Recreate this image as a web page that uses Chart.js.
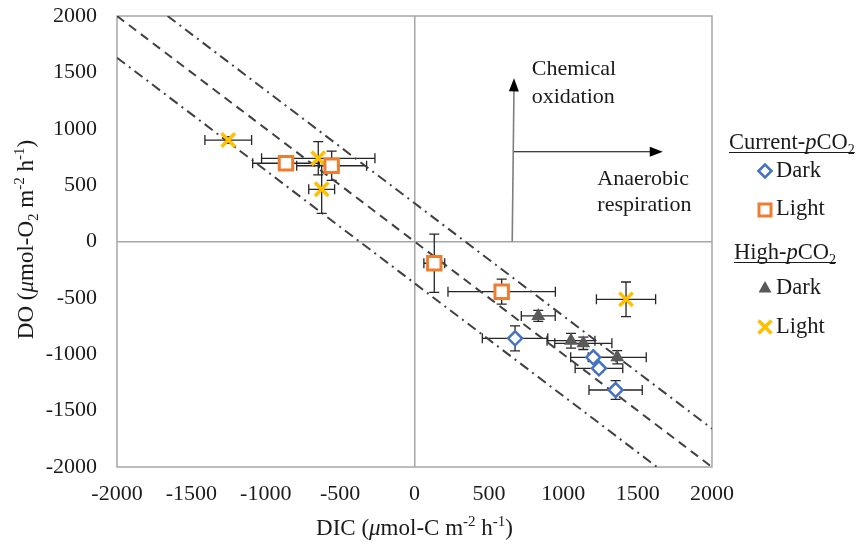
<!DOCTYPE html>
<html>
<head>
<meta charset="utf-8">
<script src="https://cdn.jsdelivr.net/npm/chart.js@4.4.0/dist/chart.umd.min.js"></script>
<style>
  html,body{margin:0;padding:0;background:#fff}
  #wrap{width:861px;height:544px;position:relative}
</style>
</head>
<body>
<div id="wrap"><canvas id="chart"></canvas></div>
<script>
/* ---------- данные (DIC, DO, погрешности) ---------- */
const CUR_DARK_DIC  = [676, 1202, 1240, 1352];
const CUR_DARK_DO   = [-859, -1027, -1125, -1317];
const CUR_DARK_XERR = [220, 152, 160, 179];
const CUR_DARK_YERR = [111, 30, 30, 83];

const CUR_LIGHT_DIC  = [-864, -557, 133, 586];
const CUR_LIGHT_DO   = [694, 672, -193, -445];
const CUR_LIGHT_XERR = [224, 235, 70, 361];
const CUR_LIGHT_YERR = [40, 130, 259, 111];

const HIGH_DARK_DIC  = [832, 1052, 1135, 1363];
const HIGH_DARK_DO   = [-660, -880, -903, -1027];
const HIGH_DARK_XERR = [114, 161, 192, 195];
const HIGH_DARK_YERR = [49, 65, 55, 59];

const HIGH_LIGHT_DIC  = [-1252, -647, -624, 1422];
const HIGH_LIGHT_DO   = [900, 738, 463, -513];
const HIGH_LIGHT_XERR = [157, 381, 87, 199];
const HIGH_LIGHT_YERR = [30, 147, 213, 154];

/* опорные линии DO = -DIC + b */
const LINE_UPPER  = [[-1660, 2000], [2000, -1660]];
const LINE_MIDDLE = [[-2000, 2000], [2000, -2000]];
const LINE_LOWER  = [[-2000, 1630], [1630, -2000]];

/* стрелки и подписи к ним */
const ARROW_UP    = [[657, 0], [669, 1447]];
const ARROW_RIGHT = [[669, 796], [1669, 796]];
const LABEL_CHEM  = {x: 788, y: [1476, 1228], text: ['Chemical', 'oxidation']};
const LABEL_ANAER = {x: 1229, y: [501, 270], text: ['Anaerobic', 'respiration']};

const TICKS = [-2000, -1500, -1000, -500, 0, 500, 1000, 1500, 2000];

/* ---------- вспомогательные ---------- */
const FAMILY = '"Liberation Serif", "Times New Roman", serif';
const pts = (xs, ys) => xs.map((x, i) => ({x, y: ys[i]}));
const seg = a => a.map(p => ({x: p[0], y: p[1]}));

function fontFor(kind, size){
  const s = (kind === 'sub' || kind === 'sup') ? Math.round(size * 0.64) : size;
  return (kind === 'i' ? 'italic ' : '') + s + 'px ' + FAMILY;
}
function richWidth(ctx, parts, size){
  let w = 0;
  parts.forEach(p => { ctx.font = fontFor(p[1], size); w += ctx.measureText(p[0]).width; });
  return w;
}
function drawRich(ctx, parts, x, y, size, align){
  const w = richWidth(ctx, parts, size);
  let cx = align === 'center' ? x - w / 2 : align === 'right' ? x - w : x;
  const x0 = cx;
  ctx.textAlign = 'left'; ctx.textBaseline = 'alphabetic';
  parts.forEach(p => {
    ctx.font = fontFor(p[1], size);
    const dy = p[1] === 'sub' ? size * 0.22 : p[1] === 'sup' ? -size * 0.38 : 0;
    ctx.fillText(p[0], cx, y + dy);
    cx += ctx.measureText(p[0]).width;
  });
  return {x0, x1: cx};
}
function marker(ctx, kind, x, y){
  ctx.save();
  if (kind === 'diamond'){
    ctx.strokeStyle = '#4472C4'; ctx.lineWidth = 2.5; ctx.fillStyle = '#fff';
    ctx.beginPath(); ctx.moveTo(x - 6.5, y); ctx.lineTo(x, y - 6.5); ctx.lineTo(x + 6.5, y); ctx.lineTo(x, y + 6.5); ctx.closePath();
    ctx.fill(); ctx.stroke();
  } else if (kind === 'square'){
    ctx.strokeStyle = '#ED7D31'; ctx.lineWidth = 3; ctx.fillStyle = '#fff';
    ctx.fillRect(x - 6, y - 6, 12, 12); ctx.strokeRect(x - 6, y - 6, 12, 12);
  } else if (kind === 'triangle'){
    ctx.fillStyle = '#595959';
    ctx.beginPath(); ctx.moveTo(x, y - 7); ctx.lineTo(x + 6.5, y + 4.5); ctx.lineTo(x - 6.5, y + 4.5); ctx.closePath(); ctx.fill();
  } else {
    ctx.strokeStyle = '#FFC000'; ctx.lineWidth = 3.5;
    ctx.beginPath(); ctx.moveTo(x - 6.5, y - 6.5); ctx.lineTo(x + 6.5, y + 6.5); ctx.moveTo(x + 6.5, y - 6.5); ctx.lineTo(x - 6.5, y + 6.5); ctx.stroke();
  }
  ctx.restore();
}
function arrowHead(ctx, x1, y1, x2, y2){
  const a = Math.atan2(y2 - y1, x2 - x1), L = 13, W = 5;
  ctx.beginPath();
  ctx.moveTo(x2, y2);
  ctx.lineTo(x2 - L * Math.cos(a) + W * Math.sin(a), y2 - L * Math.sin(a) - W * Math.cos(a));
  ctx.lineTo(x2 - L * Math.cos(a) - W * Math.sin(a), y2 - L * Math.sin(a) + W * Math.cos(a));
  ctx.closePath(); ctx.fill();
}

/* ---------- плагин: рамка, погрешности, стрелки, подписи, легенда ---------- */
const decor = {
  id: 'decor',
  beforeDatasetsDraw(chart){
    const {ctx, chartArea: a, scales: {x, y}} = chart;
    ctx.save();
    ctx.strokeStyle = '#a6a6a6'; ctx.lineWidth = 1.5;
    ctx.strokeRect(a.left, a.top, a.right - a.left, a.bottom - a.top);

    // погрешности
    ctx.strokeStyle = '#262626'; ctx.lineWidth = 1.3;
    chart.data.datasets.forEach(ds => {
      if (!ds.xErr) return;
      ds.data.forEach((p, i) => {
        const px = x.getPixelForValue(p.x), py = y.getPixelForValue(p.y);
        const xl = x.getPixelForValue(p.x - ds.xErr[i]), xr = x.getPixelForValue(p.x + ds.xErr[i]);
        const yt = y.getPixelForValue(p.y + ds.yErr[i]), yb = y.getPixelForValue(p.y - ds.yErr[i]);
        const c = 5;
        ctx.beginPath();
        ctx.moveTo(xl, py); ctx.lineTo(xr, py);
        ctx.moveTo(xl, py - c); ctx.lineTo(xl, py + c);
        ctx.moveTo(xr, py - c); ctx.lineTo(xr, py + c);
        ctx.moveTo(px, yt); ctx.lineTo(px, yb);
        ctx.moveTo(px - c, yt); ctx.lineTo(px + c, yt);
        ctx.moveTo(px - c, yb); ctx.lineTo(px + c, yb);
        ctx.stroke();
      });
    });

    // стрелки
    const u0x = x.getPixelForValue(ARROW_UP[0][0]), u0y = y.getPixelForValue(ARROW_UP[0][1]);
    const u1x = x.getPixelForValue(ARROW_UP[1][0]), u1y = y.getPixelForValue(ARROW_UP[1][1]);
    ctx.strokeStyle = '#7f7f7f'; ctx.lineWidth = 1.6;
    ctx.beginPath(); ctx.moveTo(u0x, u0y); ctx.lineTo(u1x, u1y + 8); ctx.stroke();
    ctx.fillStyle = '#000'; arrowHead(ctx, u0x, u0y, u1x, u1y);
    const r0x = x.getPixelForValue(ARROW_RIGHT[0][0]), r0y = y.getPixelForValue(ARROW_RIGHT[0][1]);
    const r1x = x.getPixelForValue(ARROW_RIGHT[1][0]), r1y = y.getPixelForValue(ARROW_RIGHT[1][1]);
    ctx.strokeStyle = '#000'; ctx.lineWidth = 1.2;
    ctx.beginPath(); ctx.moveTo(r0x, r0y); ctx.lineTo(r1x - 8, r1y); ctx.stroke();
    arrowHead(ctx, r0x, r0y, r1x, r1y);

    // подписи
    ctx.fillStyle = '#1a1a1a'; ctx.font = '22px ' + FAMILY; ctx.textAlign = 'left'; ctx.textBaseline = 'alphabetic';
    [LABEL_CHEM, LABEL_ANAER].forEach(L => {
      L.text.forEach((t, i) => ctx.fillText(t, x.getPixelForValue(L.x), y.getPixelForValue(L.y[i])));
    });
    ctx.restore();
  },
  afterDraw(chart){
    const {ctx, chartArea: a} = chart;
    ctx.save();
    ctx.fillStyle = '#1a1a1a';
    // подписи осей
    drawRich(ctx, [['DIC (', ''], ['\u03bc', 'i'], ['mol-C m', ''], ['-2', 'sup'], [' h', ''], ['-1', 'sup'], [')', '']],
      (a.left + a.right) / 2, 535, 23, 'center');
    ctx.save();
    ctx.translate(33, (a.top + a.bottom) / 2 - 2);
    ctx.rotate(-Math.PI / 2);
    drawRich(ctx, [['DO (', ''], ['\u03bc', 'i'], ['mol-O', ''], ['2', 'sub'], [' m', ''], ['-2', 'sup'], [' h', ''], ['-1', 'sup'], [')', '']],
      0, 0, 23, 'center');
    ctx.restore();

    // легенда
    const head = (parts, x0, yb) => {
      const r = drawRich(ctx, parts, x0, yb, 22.5, 'left');
      ctx.strokeStyle = '#1a1a1a'; ctx.lineWidth = 1.2;
      ctx.beginPath(); ctx.moveTo(r.x0, yb + 3.5); ctx.lineTo(r.x1, yb + 3.5); ctx.stroke();
    };
    head([['Current-', ''], ['p', 'i'], ['CO', ''], ['2', 'sub']], 729, 149);
    head([['High-', ''], ['p', 'i'], ['CO', ''], ['2', 'sub']], 734, 259);
    const items = [['diamond', 'Dark', 171, 177], ['square', 'Light', 210, 215],
                   ['triangle', 'Dark', 288, 294], ['cross', 'Light', 327, 333]];
    items.forEach(it => {
      marker(ctx, it[0], 765, it[2]);
      ctx.fillStyle = '#1a1a1a'; ctx.font = '22.5px ' + FAMILY; ctx.textAlign = 'left'; ctx.textBaseline = 'alphabetic';
      ctx.fillText(it[1], 776, it[3]);
    });
    ctx.restore();
  }
};

/* ---------- график ---------- */
const refLine = (d, dash) => ({
  type: 'line', data: seg(d), borderColor: '#404040', borderWidth: 2, borderDash: dash,
  pointRadius: 0, showLine: true, fill: false
});
const axisTicks = pad => ({
  color: '#1a1a1a', font: {family: FAMILY, size: 22}, padding: pad,
  maxRotation: 0, autoSkip: false, callback: v => String(v)
});
const axisGrid = {
  color: c => (c.tick && c.tick.value === 0) ? '#a6a6a6' : 'rgba(0,0,0,0)',
  lineWidth: 1.5, drawTicks: false
};

new Chart(document.getElementById('chart'), {
  type: 'scatter',
  data: {
    datasets: [
      {label: 'Current Dark', data: pts(CUR_DARK_DIC, CUR_DARK_DO), xErr: CUR_DARK_XERR, yErr: CUR_DARK_YERR,
       pointStyle: 'rectRot', pointRadius: 7, pointBorderWidth: 2.5, borderColor: '#4472C4', backgroundColor: '#fff'},
      {label: 'Current Light', data: pts(CUR_LIGHT_DIC, CUR_LIGHT_DO), xErr: CUR_LIGHT_XERR, yErr: CUR_LIGHT_YERR,
       pointStyle: 'rect', pointRadius: 9.5, pointBorderWidth: 3, borderColor: '#ED7D31', backgroundColor: '#fff'},
      {label: 'High Dark', data: pts(HIGH_DARK_DIC, HIGH_DARK_DO), xErr: HIGH_DARK_XERR, yErr: HIGH_DARK_YERR,
       pointStyle: 'triangle', pointRadius: 8, pointBorderWidth: 0, borderColor: '#595959', backgroundColor: '#595959'},
      {label: 'High Light', data: pts(HIGH_LIGHT_DIC, HIGH_LIGHT_DO), xErr: HIGH_LIGHT_XERR, yErr: HIGH_LIGHT_YERR,
       pointStyle: 'crossRot', pointRadius: 9.5, pointBorderWidth: 3.5, borderColor: '#FFC000', backgroundColor: '#FFC000'},
      refLine(LINE_UPPER, [10, 5, 2, 5]),
      refLine(LINE_MIDDLE, [9, 6]),
      refLine(LINE_LOWER, [10, 5, 2, 5])
    ]
  },
  options: {
    responsive: true, maintainAspectRatio: false, animation: false,
    layout: {padding: {top: 16, right: 149, bottom: 0, left: 0}},
    plugins: {legend: {display: false}, tooltip: {enabled: false}},
    scales: {
      x: {type: 'linear', min: -2000, max: 2000, afterBuildTicks: s => { s.ticks = TICKS.map(v => ({value: v})); },
          ticks: axisTicks(14), grid: axisGrid, border: {display: false},
          afterFit: s => { s.height = 77; s.paddingLeft = 0; s.paddingRight = 0; }},
      y: {type: 'linear', min: -2000, max: 2000, afterBuildTicks: s => { s.ticks = TICKS.map(v => ({value: v})); },
          ticks: axisTicks(20), grid: axisGrid, border: {display: false},
          afterFit: s => { s.width = 117; s.paddingTop = 0; s.paddingBottom = 0; }}
    }
  },
  plugins: [decor]
});
</script>
</body>
</html>
